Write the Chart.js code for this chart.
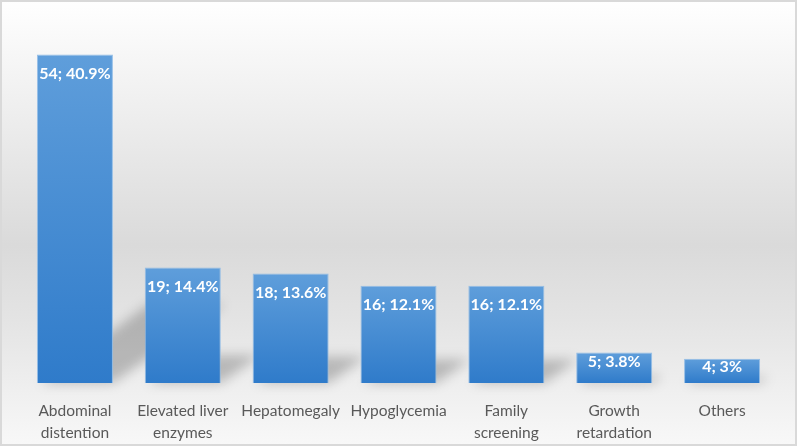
<!DOCTYPE html>
<html>
<head>
<meta charset="utf-8">
<script src="https://cdn.jsdelivr.net/npm/chart.js@4.4.1/dist/chart.umd.min.js"></script>
<style>
  html, body { margin: 0; padding: 0; background: #fff; }
  #wrap { width: 797px; height: 446px; }
</style>
</head>
<body>
<div id="wrap"><canvas id="myChart" width="797" height="446"></canvas></div>
<script>
const categories = [
    ['Abdominal', 'distention'],
    ['Elevated liver', 'enzymes'],
    'Hepatomegaly',
    'Hypoglycemia',
    ['Family', 'screening'],
    ['Growth', 'retardation'],
    'Others'
];
const counts = [54, 19, 18, 16, 16, 5, 4];
const percents = ['40.9%', '14.4%', '13.6%', '12.1%', '12.1%', '3.8%', '3%'];

// gray backdrop + frame
const backdrop = {
    id: 'backdrop',
    beforeDraw(chart) {
        const { ctx, width, height } = chart;
        const g = ctx.createLinearGradient(0, 0, 0, height);
        g.addColorStop(0, '#ffffff');
        g.addColorStop(0.55, '#dadada');
        g.addColorStop(0.72, '#e4e4e4');
        g.addColorStop(1, '#f8f8f8');
        ctx.save();
        ctx.fillStyle = g;
        ctx.fillRect(0, 0, width, height);
        ctx.strokeStyle = '#d9d9d9';
        ctx.lineWidth = 2;
        ctx.strokeRect(1, 1, width - 2, height - 2);
        ctx.restore();
    }
};

// perspective shadows behind the bars
const barShadow = {
    id: 'barShadow',
    beforeDatasetsDraw(chart) {
        const { ctx } = chart;
        const meta = chart.getDatasetMeta(0);
        ctx.save();
        ctx.filter = 'blur(6px)';
        ctx.fillStyle = 'rgba(0,0,0,0.22)';
        meta.data.forEach(bar => {
            const h = bar.base - bar.y;
            const x0 = bar.x - bar.width / 2;
            const x1 = bar.x + bar.width / 2;
            const up = h * 0.24, dx = h * 0.34;
            ctx.beginPath();
            ctx.moveTo(x0 + 4, bar.base);
            ctx.lineTo(x1, bar.base);
            ctx.lineTo(x1 + dx, bar.base - up);
            ctx.lineTo(x0 + dx, bar.base - up);
            ctx.closePath();
            ctx.fill();
        });
        ctx.restore();
    }
};

// "n; p%" labels at top of each bar
const barLabels = {
    id: 'barLabels',
    afterDatasetsDraw(chart) {
        const { ctx } = chart;
        const meta = chart.getDatasetMeta(0);
        ctx.save();
        ctx.font = 'bold 16px Lato, "Open Sans", sans-serif';
        ctx.fillStyle = '#ffffff';
        ctx.textAlign = 'center';
        ctx.textBaseline = 'middle';
        meta.data.forEach((bar, i) => {
            const h = bar.base - bar.y;
            const off = Math.min(19, h * 0.32);
            ctx.fillText(counts[i] + '; ' + percents[i], bar.x, bar.y + off);
        });
        ctx.restore();
    }
};

function barFill(context) {
    const chart = context.chart;
    const y = chart.scales.y;
    const fallback = '#4a8fd2';
    if (!y) return fallback;
    const top = y.getPixelForValue(counts[context.dataIndex]);
    const bottom = y.getPixelForValue(0);
    if (!isFinite(top) || !isFinite(bottom) || top === bottom) return fallback;
    const g = chart.ctx.createLinearGradient(0, top, 0, bottom);
    g.addColorStop(0, '#5f9edb');
    g.addColorStop(1, '#2f7bca');
    return g;
}

const ctx = document.getElementById('myChart').getContext('2d');
new Chart(ctx, {
    type: 'bar',
    data: {
        labels: categories,
        datasets: [{
            data: counts,
            backgroundColor: barFill,
            borderColor: 'rgba(140,185,230,0.9)',
            borderWidth: 1,
            categoryPercentage: 0.705,
            barPercentage: 1
        }]
    },
    options: {
        responsive: false,
        animation: false,
        layout: { padding: { left: 21, right: 21, top: 18, bottom: -7 } },
        plugins: {
            legend: { display: false },
            tooltip: { enabled: false }
        },
        scales: {
            x: {
                grid: { display: false },
                border: { display: false },
                ticks: {
                    color: '#595959',
                    padding: 9,
                    maxRotation: 0,
                    autoSkip: false,
                    font: { family: 'Lato, "Open Sans", sans-serif', size: 15.5, lineHeight: 1.42 }
                }
            },
            y: {
                display: false,
                min: 0,
                max: 60
            }
        }
    },
    plugins: [backdrop, barShadow, barLabels]
});
</script>
</body>
</html>
